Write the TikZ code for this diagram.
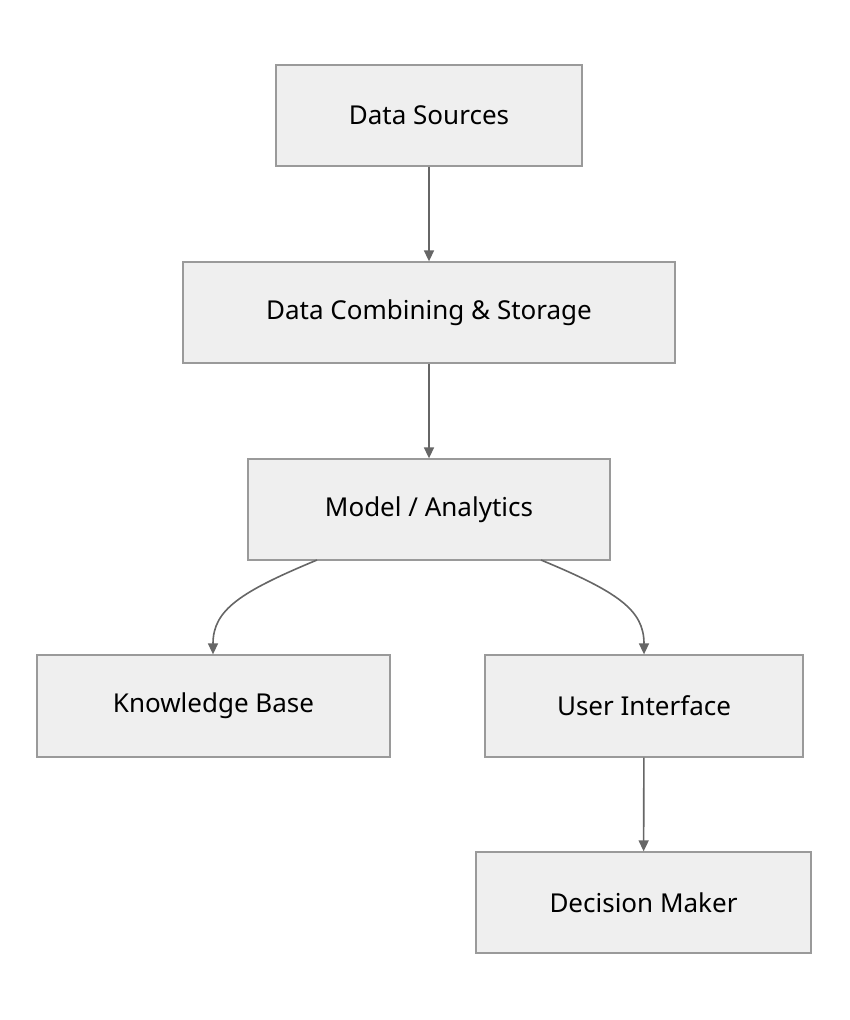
\documentclass[tikz,border=0pt]{standalone}
\usepackage{fontspec}
\setmainfont{Noto Sans}
\usetikzlibrary{arrows.meta}
\definecolor{boxfill}{HTML}{EFEFEF}
\definecolor{boxline}{HTML}{9A9A9A}
\definecolor{arr}{HTML}{666666}
\begin{document}
\begin{tikzpicture}[x=1pt,y=-1pt,
  box/.style={draw=boxline,fill=boxfill,line width=1.3pt,inner sep=0pt,font=\fontsize{26}{30}\selectfont},
  link/.style={draw=arr,line width=1.6pt,-{Triangle[length=11pt,width=10pt]}}]
\useasboundingbox (0,0) rectangle (850,1020);
\node[box,minimum width=306pt,minimum height=101pt] (ds) at (429,115.5) {Data Sources};
\node[box,minimum width=492pt,minimum height=101pt] (dc) at (429,312.5) {Data Combining \& Storage};
\node[box,minimum width=362pt,minimum height=101pt] (ma) at (429,509.5) {Model / Analytics};
\node[box,minimum width=353pt,minimum height=102pt] (kb) at (213.5,706) {Knowledge Base};
\node[box,minimum width=318pt,minimum height=102pt] (ui) at (644,706) {User Interface};
\node[box,minimum width=335pt,minimum height=101pt] (dm) at (643.5,902.5) {Decision Maker};
\draw[link] (ds) -- (dc);
\draw[link] (dc) -- (ma);
\draw[link] (317,560) .. controls (240,592) and (213,610) .. (kb.north -| 213,655);
\draw[link] (541,560) .. controls (618,592) and (644,610) .. (ui.north);
\draw[link] (ui) -- (dm);
\end{tikzpicture}
\end{document}
